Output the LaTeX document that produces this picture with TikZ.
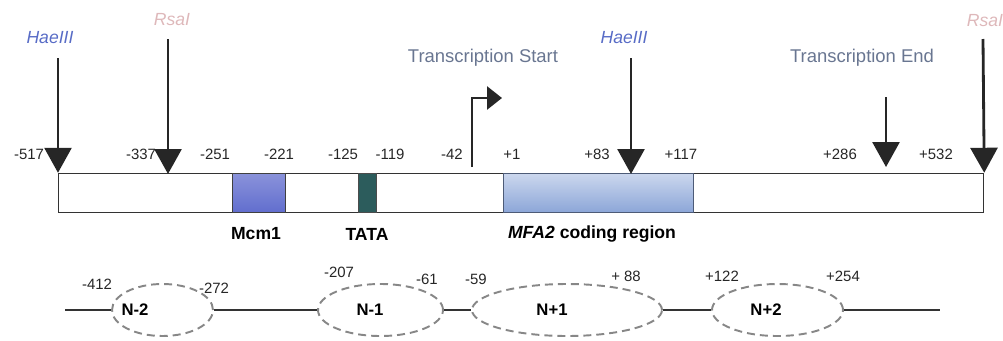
\documentclass[tikz,border=0pt]{standalone}
\usepackage{fontspec}
\setmainfont{Liberation Sans}
\definecolor{haeblue}{RGB}{88,108,198}
\definecolor{rsapink}{RGB}{222,184,186}
\definecolor{tsgray}{RGB}{105,118,145}
\definecolor{mcmblue}{RGB}{98,110,206}
\definecolor{tatateal}{RGB}{44,92,92}
\definecolor{codeblue}{RGB}{140,166,216}
\definecolor{nucgray}{RGB}{135,135,135}
\usetikzlibrary{arrows.meta, positioning, shapes.geometric}

\begin{document}
\begin{tikzpicture}[every node/.style={font=\fontsize{8.5}{10}\selectfont},
  poslbl/.style={text=black!85},
  sitelbl/.style={font=\fontsize{10}{12}\selectfont\itshape},
  tslbl/.style={font=\fontsize{10.5}{12}\selectfont, text=tsgray},
  boxlbl/.style={font=\fontsize{10}{12}\selectfont\bfseries},
  cutarrow/.style={line width=1.6pt, black!85, -{Triangle[width=0.54cm, length=0.5cm]}},
  regbox/.style={draw, line width=0.7pt, inner sep=0pt, minimum height=0.78cm, anchor=south west},
  nucl/.style={draw=nucgray, ellipse, dash pattern=on 0.16cm off 0.1cm, line width=1.1pt,
    minimum height=1.04cm, inner sep=0pt},
  nuclbl/.style={font=\fontsize{9.5}{11}\selectfont\bfseries}]
  \useasboundingbox (0,0) rectangle (20.06,6.8);

  %% GENE BAR
  \node[regbox, draw=black!80, minimum width=18.5cm] (gene) at (1.16,2.54) {};
  \node[regbox, draw=black!75, top color=mcmblue!75!white, bottom color=mcmblue,
    minimum width=1.06cm] (mcm) at (4.64,2.54) {};
  \node[regbox, draw=black!70, fill=tatateal, minimum width=0.36cm] (tata) at (7.16,2.54) {};
  \node[regbox, draw=black!45!codeblue, top color=codeblue!45!white, bottom color=codeblue,
    minimum width=3.8cm] (coding) at (10.06,2.54) {};

  \node[boxlbl] (mcmlbl) at (5.12,2.12) {Mcm1};
  \node[boxlbl] (tatalbl) at (7.34,2.12) {TATA};
  \node[boxlbl] (codinglbl) at (11.84,2.12) {\textit{MFA2} coding region};

  %% positions along the bar
  \node[poslbl] (p517) at (0.58,3.72) {-517};
  \node[poslbl] (p337) at (2.82,3.72) {-337};
  \node[poslbl] (p251) at (4.30,3.72) {-251};
  \node[poslbl] (p221) at (5.58,3.72) {-221};
  \node[poslbl] (p125) at (6.86,3.72) {-125};
  \node[poslbl] (p119) at (7.80,3.72) {-119};
  \node[poslbl] (p42) at (9.04,3.72) {-42};
  \node[poslbl] (p1) at (10.24,3.72) {+1};
  \node[poslbl] (p83) at (11.94,3.72) {+83};
  \node[poslbl] (p117) at (13.62,3.72) {+117};
  \node[poslbl] (p286) at (16.80,3.72) {+286};
  \node[poslbl] (p532) at (18.72,3.72) {+532};

  %% RESTRICTION SITES
  \node[sitelbl, text=haeblue] (hae1) at (1.00,6.04) {HaeIII};
  \node[sitelbl, text=rsapink] (rsa1) at (3.44,6.40) {RsaI};
  \node[sitelbl, text=haeblue] (hae2) at (12.48,6.04) {HaeIII};
  \node[sitelbl, text=rsapink] (rsa2) at (19.70,6.38) {RsaI};
  \coordinate (hae1top) at (1.16,5.64);
  \coordinate (rsa1top) at (3.36,6.02);
  \coordinate (hae2top) at (12.62,5.64);
  \coordinate (rsa2top) at (19.66,6.02);
  \coordinate (rsa1cut) at (3.36,3.32);
  \coordinate (hae2cut) at (12.62,3.32);
  \draw[cutarrow] (hae1top) -- (gene.north west);
  \draw[cutarrow] (rsa1top) -- (rsa1cut);
  \draw[cutarrow] (hae2top) -- (hae2cut);
  \draw[cutarrow] (rsa2top) -- (gene.north east);

  %% TRANSCRIPTION
  \node[tslbl] (tstart) at (9.66,5.64) {Transcription Start};
  \coordinate (tsfoot) at (9.44,3.46);
  \coordinate (tstip) at (10.04,4.84);
  \draw[line width=1.6pt, black!85, -{Triangle[width=0.46cm, length=0.3cm]}] (tsfoot) |- (tstip);

  \node[tslbl] (tend) at (17.24,5.64) {Transcription End};
  \coordinate (tetop) at (17.72,4.86);
  \coordinate (tetip) at (17.72,3.46);
  \draw[cutarrow] (tetop) -- (tetip);

  %% NUCLEOSOMES
  \node[nucl, minimum width=2.02cm] (nm2) at (3.25,0.6) {};
  \node[nucl, minimum width=2.5cm] (nm1) at (7.61,0.6) {};
  \node[nucl, minimum width=3.8cm] (np1) at (11.34,0.6) {};
  \node[nucl, minimum width=2.62cm] (np2) at (15.55,0.6) {};
  \node[nuclbl] (nm2lbl) at (2.70,0.6) {N-2};
  \node[nuclbl] (nm1lbl) at (7.40,0.6) {N-1};
  \node[nuclbl] (np1lbl) at (11.04,0.6) {N+1};
  \node[nuclbl] (np2lbl) at (15.32,0.6) {N+2};

  \coordinate (dnastart) at (1.30,0.6);
  \coordinate (dnaend) at (18.80,0.6);
  \draw[black!80, line width=0.6pt] (dnastart) -- (nm2.west);
  \draw[black!80, line width=0.6pt] (nm2.east) -- (nm1.west);
  \draw[black!80, line width=0.6pt] (nm1.east) -- (np1.west);
  \draw[black!80, line width=0.6pt] (np1.east) -- (np2.west);
  \draw[black!80, line width=0.6pt] (np2.east) -- (dnaend);

  \node[poslbl] (q412) at (1.94,1.12) {-412};
  \node[poslbl] (q272) at (4.28,1.04) {-272};
  \node[poslbl] (q207) at (6.78,1.36) {-207};
  \node[poslbl] (q61) at (8.54,1.22) {-61};
  \node[poslbl] (q59) at (9.52,1.22) {-59};
  \node[poslbl] (q88) at (12.52,1.28) {+ 88};
  \node[poslbl] (q122) at (14.44,1.28) {+122};
  \node[poslbl] (q254) at (16.86,1.28) {+254};
\end{tikzpicture}
\end{document}
